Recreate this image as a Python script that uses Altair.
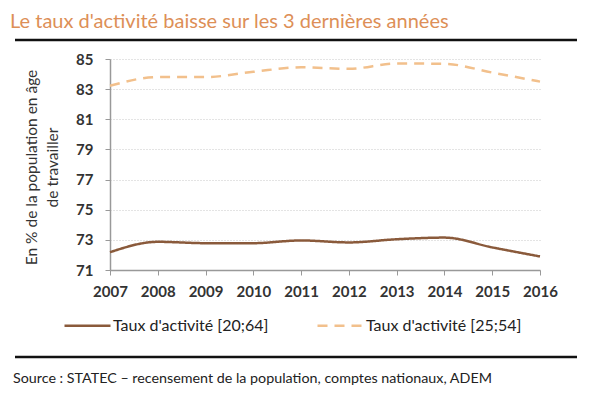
import altair as alt
import pandas as pd

years = [2007, 2008, 2009, 2010, 2011, 2012, 2013, 2014, 2015, 2016]
taux_20_64 = [72.18, 72.87, 72.78, 72.78, 72.96, 72.83, 73.04, 73.15, 72.5, 71.9]
taux_25_54 = [83.22, 83.8, 83.8, 84.15, 84.45, 84.35, 84.7, 84.68, 84.1, 83.5]
series_names = ["Taux d'activité [20;64]", "Taux d'activité [25;54]"]
y_ticks = [71, 73, 75, 77, 79, 81, 83, 85]

title_text = "Le taux d'activité baisse sur les 3 dernières années"
source_text = "Source : STATEC – recensement de la population, comptes nationaux, ADEM"
y_title = ["En % de la population en âge", "de travailler"]

rows = []
for y, a, b in zip(years, taux_20_64, taux_25_54):
    rows.append({"year": y, "value": a, "series": series_names[0]})
    rows.append({"year": y, "value": b, "series": series_names[1]})
df = pd.DataFrame(rows)

FONT = "Lato"
W, H = 430, 211

legend_kw = dict(title=None, orient="none", legendX=-47, legendY=242,
                 direction="horizontal", symbolType="stroke",
                 symbolSize=2116, symbolStrokeWidth=2.5,
                 labelFont=FONT, labelFontSize=16, labelColor="#222222",
                 labelOffset=1, columnPadding=43, labelLimit=400)

lines = alt.Chart(df).mark_line(strokeWidth=2.5, interpolate="monotone").encode(
    x=alt.X("year:Q", scale=alt.Scale(domain=[2007, 2016], nice=False),
            axis=alt.Axis(values=years, format="d", title=None, grid=False,
                          labelFontSize=15, labelFontWeight="bold", labelColor="#333333",
                          labelFont=FONT, labelPadding=9, tickSize=5, tickColor="#999999",
                          domainColor="#999999", domainWidth=1.5,
                          labelOverlap=False, labelFlush=False)),
    y=alt.Y("value:Q", scale=alt.Scale(domain=[71, 85], nice=False),
            axis=alt.Axis(values=y_ticks, title=y_title, grid=True, gridDash=[1, 2],
                          gridColor="#c8c8c8", labelFontSize=15, labelFontWeight="bold",
                          labelColor="#333333", labelFont=FONT, labelPadding=12,
                          tickSize=5, tickColor="#999999", domainColor="#999999",
                          domainWidth=1.5, titleFont=FONT, titleFontSize=15.5,
                          titleFontWeight="normal", titleColor="#333333",
                          titleX=-71, titleY=108, titleAngle=-90,
                          titleAlign="center", titleBaseline="bottom", titleLineHeight=21)),
    color=alt.Color("series:N", scale=alt.Scale(domain=series_names, range=["#8a5a3b", "#f2c08c"]),
                    legend=alt.Legend(**legend_kw)),
    strokeDash=alt.StrokeDash("series:N", scale=alt.Scale(domain=series_names, range=[[1, 0], [10, 7]]),
                              legend=alt.Legend(**legend_kw)),
)

one = pd.DataFrame({"a": [0]})

title = alt.Chart(one).mark_text(text=title_text, font=FONT, fontSize=20, color="#dd8f57",
                                 align="left", baseline="alphabetic").encode(
    x=alt.value(-100), y=alt.value(-31))
top_rule = alt.Chart(one).mark_rule(color="#111111", strokeWidth=2.5).encode(
    x=alt.value(-95), x2=alt.value(467), y=alt.value(-19))
bottom_rule = alt.Chart(one).mark_rule(color="#111111", strokeWidth=2.5).encode(
    x=alt.value(-95), x2=alt.value(467), y=alt.value(298))
source = alt.Chart(one).mark_text(text=source_text, font=FONT, fontSize=14.3, color="#222222",
                                  align="left", baseline="middle").encode(
    x=alt.value(-97), y=alt.value(320))

chart = alt.layer(lines, title, top_rule, bottom_rule, source).properties(
    width=W, height=H,
    autosize=alt.AutoSizeParams(type="none"),
    padding={"left": 102, "top": 51, "right": 52, "bottom": 122},
    background="white",
).configure_view(stroke=None)

chart.save("out.html", embed_options={"renderer": "svg", "actions": False})
